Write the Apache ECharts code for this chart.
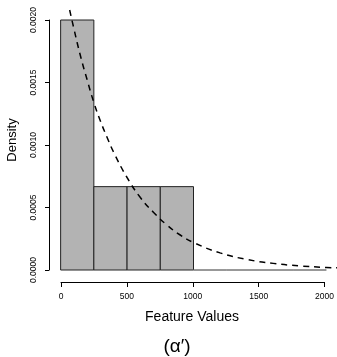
<!DOCTYPE html>
<html>
<head>
<meta charset="utf-8">
<script src="https://cdn.jsdelivr.net/npm/echarts@6/dist/echarts.min.js"></script>
<style>
  html, body { margin: 0; padding: 0; background: #fff; }
  #chart { width: 337px; height: 357px; }
</style>
</head>
<body>
<div id="chart"></div>
<script>
// histogram bins (break edges) and densities
const binStart = [0, 250, 500, 750, 1000, 1250, 1500, 1750]
const binEnd = [250, 500, 750, 1000, 1250, 1500, 1750, 2000]
const binDensity = [0.002, 0.000667, 0.000667, 0.000667, 0, 0, 0, 0]

// dashed density curve
const curveX = [68, 100, 150, 200, 250, 300, 350, 400, 500, 600, 700, 800, 900, 1000, 1200, 1400, 1600, 1800, 2000, 2080]
const curveY = [0.00208, 0.00193, 0.00171, 0.00152, 0.00134, 0.00119, 0.00106, 0.00094, 0.00074, 0.00058,
  0.00046, 0.00036, 0.00028, 0.00022, 0.000137, 0.000085, 0.000053, 0.000033, 0.000020, 0.000017]

const xTicks = [0, 500, 1000, 1500, 2000]
const yTicks = ['0.0000', '0.0005', '0.0010', '0.0015', '0.0020']

const font = 'Helvetica, Arial, "Liberation Sans", sans-serif'

let chart = echarts.init(document.getElementById('chart'), null, { renderer: 'canvas' })

let option = {
  animation: false,
  backgroundColor: '#fff',
  grid: [
    // plot region (R usr range with 4% padding)
    { left: 50, top: 10, width: 288, height: 270 },
    // x axis, drawn below the plot region
    { left: 61, top: 10, width: 266, height: 272 },
    // y axis, left of the plot region
    { left: 49, top: 20, width: 278, height: 250 }
  ],
  xAxis: [
    { gridIndex: 0, type: 'value', min: -80, max: 2080, show: false },
    {
      gridIndex: 1, type: 'value', min: 0, max: 2000, interval: 500,
      axisLine: { show: true, lineStyle: { color: '#000', width: 1 } },
      axisTick: { show: true, length: 5, lineStyle: { color: '#000' } },
      axisLabel: {
        color: '#000', fontSize: 8.5, fontFamily: font, margin: 10,
        formatter: (v) => String(v)
      },
      splitLine: { show: false }
    },
    { gridIndex: 2, type: 'value', min: 0, max: 1, show: false }
  ],
  yAxis: [
    { gridIndex: 0, type: 'value', min: -0.00008, max: 0.00208, show: false },
    { gridIndex: 1, type: 'value', min: 0, max: 1, show: false },
    {
      gridIndex: 2, type: 'value', min: 0, max: 0.002, interval: 0.0005,
      axisLine: { show: true, lineStyle: { color: '#000', width: 1 } },
      axisTick: { show: true, length: 4, lineStyle: { color: '#000' } },
      axisLabel: {
        color: '#000', fontSize: 8.5, fontFamily: font, rotate: 90, margin: 11,
        formatter: (v) => yTicks[Math.round(v / 0.0005)]
      },
      splitLine: { show: false }
    }
  ],
  graphic: [
    {
      type: 'text', rotation: Math.PI / 2, x: 12, y: 140,
      style: { text: 'Density', fontSize: 13, fontFamily: font, fill: '#000', align: 'center', verticalAlign: 'middle' }
    },
    {
      type: 'text', x: 192, y: 317,
      style: { text: 'Feature Values', fontSize: 14, fontFamily: font, fill: '#000', align: 'center', verticalAlign: 'middle' }
    },
    {
      type: 'text', x: 177, y: 347,
      style: { text: '(α′)', fontSize: 19, fontFamily: font, fill: '#000', align: 'center', verticalAlign: 'middle' }
    }
  ],
  series: [
    {
      type: 'custom',
      xAxisIndex: 0,
      yAxisIndex: 0,
      data: binStart.map((s, i) => [s, binEnd[i], binDensity[i]]),
      renderItem: function (params, api) {
        let p0 = api.coord([api.value(0), 0])
        let p1 = api.coord([api.value(1), api.value(2)])
        let empty = api.value(2) === 0
        return {
          type: 'rect',
          shape: { x: p0[0], y: p1[1], width: p1[0] - p0[0], height: p0[1] - p1[1] },
          style: { fill: '#b3b3b3', stroke: empty ? '#777' : '#222', lineWidth: 1 }
        }
      },
      z: 2
    },
    {
      type: 'line',
      xAxisIndex: 0,
      yAxisIndex: 0,
      data: curveX.map((x, i) => [x, curveY[i]]),
      smooth: true,
      symbol: 'none',
      lineStyle: { color: '#000', width: 1.5, type: [6, 5] },
      z: 3
    }
  ]
}
chart.setOption(option)
</script>
</body>
</html>
